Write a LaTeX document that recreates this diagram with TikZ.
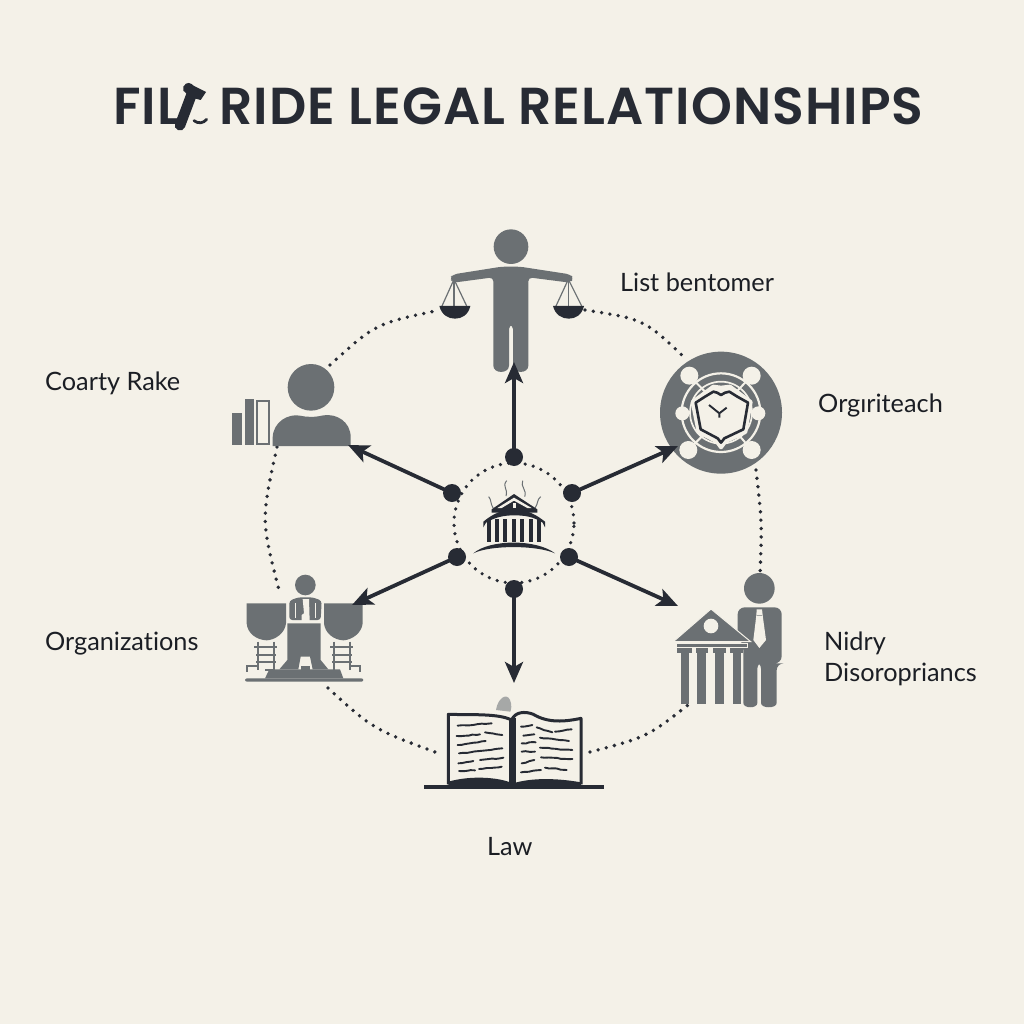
\documentclass[tikz,border=0pt]{standalone}
\usepackage{fontspec}
\setmainfont[Ligatures=NoCommon]{Lato}
\newfontfamily\titlefont[LetterSpace=2.0]{Poppins SemiBold}
\usetikzlibrary{arrows.meta,decorations.pathmorphing}
\definecolor{bgc}{HTML}{F4F1E8}
\definecolor{ink}{HTML}{272B34}
\definecolor{gry}{HTML}{6B7073}
\definecolor{lgry}{HTML}{A6A8A7}
\tikzset{
  lbl/.style={anchor=base west,inner sep=0pt,text=ink!70!black,font=\fontsize{25.3}{29}\selectfont},
  ttl/.style={anchor=base west,inner sep=0pt,text=ink,font=\titlefont\fontsize{52}{56}\selectfont},
  hubdot/.style={circle,fill=ink,draw=none,inner sep=0pt,minimum size=18pt},
  spoke/.style={draw=ink,line width=3.8pt,-{Stealth[length=21pt,width=18pt,inset=5pt]}},
  dotline/.style={draw=ink,line width=3.8pt,line cap=round,dash pattern=on 0pt off 8.4pt},
  hubring/.style={circle,draw=ink,line width=3.6pt,line cap=round,dash pattern=on 0pt off 8.3pt,minimum size=120pt,inner sep=0pt},
  zm/.style={x=0.33333pt,y=-0.33333pt},
  txtln/.style={draw=ink,line width=1.9pt,line cap=round,decorate,decoration={random steps,segment length=4pt,amplitude=.5pt}},
  strng/.style={draw=gry,line width=1.2pt}
}
\begin{document}
\begin{tikzpicture}[x=1pt,y=-1pt]
\useasboundingbox (0,0) rectangle (1024,1024);
\fill[bgc] (0,0) rectangle (1024,1024);

% title
\node[ttl] (titleA) at (113,125) {FIL};
\node[ttl] (titleB) at (219,125) {RIDE LEGAL RELATIONSHIPS};
\begin{scope}[shift={(100,70)},zm]
  \draw[ink,line width=10.5pt,line cap=round] (240,166) -- (278,65);
  \fill[ink] (250,50) .. controls (260,33) and (272,38) .. (282,48) -- (318,66) -- (302,90) -- (272,82) -- (250,62) -- cycle;
  \draw[ink,line width=2.8pt,line cap=round] (282,152) .. controls (295,162) and (310,160) .. (320,148);
\end{scope}

% labels
\node[lbl] (l1) at (620,291) {List bentomer};
\node[lbl] (l2) at (45,390) {Coarty Rake};
\node[lbl] (l3) at (818,412) {Orgıriteach};
\node[lbl] (l4) at (45,650) {Organizations};
\node[lbl] (l5) at (824,650) {Nidry};
\node[lbl] (l6) at (824,681) {Disoropriancs};
\node[lbl] (l7) at (487,855) {Law};

% outer dotted arcs
\coordinate (oa1) at (330,365); \coordinate (oa2) at (440,310); \coordinate (oac) at (375.7,323.5);
\coordinate (ob1) at (585,310); \coordinate (ob2) at (685,358); \coordinate (obc) at (644.3,319.3);
\coordinate (oc1) at (756,470); \coordinate (oc2) at (760,575); \coordinate (occ) at (762,522);
\coordinate (od1) at (277,447); \coordinate (od2) at (279,590); \coordinate (odc) at (261,520);
\coordinate (oe1) at (328,688); \coordinate (oe2) at (435,752); \coordinate (oec) at (373,729);
\coordinate (of1) at (590,752); \coordinate (of2) at (688,705); \coordinate (ofc) at (647,737);
\draw[dotline] (oa1) .. controls (oac) .. (oa2);
\draw[dotline] (ob1) .. controls (obc) .. (ob2);
\draw[dotline] (oc1) .. controls (occ) .. (oc2);
\draw[dotline] (od1) .. controls (odc) .. (od2);
\draw[dotline] (oe1) .. controls (oec) .. (oe2);
\draw[dotline] (of1) .. controls (ofc) .. (of2);

% person with scales
\begin{scope}[shift={(430,220)},zm]
  \fill[gry] (243,80) circle[radius=52];
  \fill[gry,rounded corners=4pt] (58,175) -- (70,163) -- (215,140) -- (270,140) -- (420,163) -- (432,175) -- (420,188) -- (295,172) -- (295,425) .. controls (295,462) and (249,462) .. (249,425) -- (249,315) -- (237,315) -- (237,425) .. controls (237,462) and (190,462) .. (190,425) -- (190,172) -- (70,188) -- cycle;
  \draw[strng] (36,258) -- (72,178) -- (110,258);
  \draw[strng] (72,178) -- (72,258);
  \draw[strng] (378,258) -- (415,178) -- (455,258);
  \draw[strng] (415,178) -- (415,258);
  \fill[ink] (28,258) -- (121,258) .. controls (115,285) and (95,296) .. (75,296) .. controls (55,296) and (35,285) .. (28,258) -- cycle;
  \fill[ink] (369,258) -- (462,258) .. controls (456,285) and (436,296) .. (416,296) .. controls (396,296) and (376,285) .. (369,258) -- cycle;
\end{scope}

% left person with bars
\begin{scope}[shift={(220,350)},zm]
  \fill[gry] (273,112) circle[radius=70];
  \fill[gry] (158,288) -- (158,262) .. controls (160,215) and (205,190) .. (240,197) .. controls (262,202) and (285,202) .. (310,196) .. controls (350,190) and (392,215) .. (392,262) -- (392,288) -- cycle;
  \fill[gry] (36,188) rectangle (65,284);
  \fill[gry] (74,148) rectangle (103,284);
  \draw[gry,line width=1.8pt] (112,152) rectangle (146,283);
\end{scope}

% shield
\begin{scope}[shift={(650,340)},zm]
  \fill[gry] (213,218) circle[radius=183];
  \draw[bgc,line width=2.2pt] (213,218) circle[radius=118];
  \draw[bgc,line width=1.7pt] (213,218) circle[radius=93];
  \draw[bgc,line width=2pt] (118,107) -- (170,160) (305,107) -- (255,160) (115,330) -- (165,280) (305,330) -- (262,280);
  \foreach \px/\py/\pr in {118/107/27,305/107/27,97/220/21,325/220/21,115/330/27,305/330/27}{
    \fill[bgc] (\px,\py) circle[radius=\pr];
  }
  \path[fill=bgc,draw=bgc,line width=4pt,line join=round] (213,143) -- (190,140) -- (128,186) -- (146,276) -- (200,304) -- (213,322) -- (226,304) -- (286,276) -- (302,186) -- (240,140) -- cycle;
  \path[fill=bgc,draw=ink,line width=2.6pt,line join=round] (213,165) .. controls (205,160) and (198,155) .. (190,155) -- (165,170) -- (137,188) -- (152,268) -- (203,295) -- (213,308) -- (223,295) -- (280,268) -- (294,188) -- (262,170) -- (238,155) .. controls (230,155) and (220,160) .. (213,165) -- cycle;
  \draw[ink,line width=1.9pt] (177,195) -- (208,220) -- (230,203) (208,220) -- (208,233);
\end{scope}

% bank and person
\begin{scope}[shift={(660,560)},zm]
  \fill[gry] (298,85) circle[radius=46];
  \fill[gry,rounded corners=7pt] (233,142) -- (365,142) -- (365,310) -- (350,310) -- (350,408) .. controls (350,446) and (303,446) .. (303,408) -- (303,305) -- (292,305) -- (292,408) .. controls (292,446) and (250,446) .. (250,408) -- (250,250) -- (233,230) -- cycle;
  \fill[bgc] (290,148) -- (306,148) -- (308,166) -- (318,240) -- (298,264) -- (280,240) -- (289,166) -- cycle;
  \draw[gry!60!bgc,line width=.5pt] (290,166) -- (307,166);
  \path[fill=gry,draw=bgc,line width=1pt] (40,245) -- (153,147) -- (272,245) -- cycle;
  \fill[bgc] (153,198) circle[radius=22];
  \path[fill=gry,draw=bgc,line width=.8pt] (48,250) rectangle (262,262);
  \foreach \ca/\cb/\sa/\sb in {52/95/62/88,107/145/112/138,160/197/165/192,210/248/218/243}{
    \fill[gry] (\ca,264) rectangle (\cb,278);
    \fill[gry] (\sa,278) rectangle (\sb,432);
  }
\end{scope}

% organization figure
\begin{scope}[shift={(230,560)},zm]
  \fill[gry] (226,75) circle[radius=31];
  \fill[gry] (50,130) -- (168,130) -- (168,190) .. controls (165,220) and (135,240) .. (110,241) .. controls (80,240) and (52,220) .. (50,190) -- cycle;
  \fill[gry] (282,130) -- (398,130) -- (398,190) .. controls (395,220) and (365,240) .. (340,241) .. controls (312,240) and (285,220) .. (282,190) -- cycle;
  \fill[gry,rounded corners=3pt] (178,180) -- (178,122) -- (205,112) -- (248,112) -- (275,122) -- (272,180) -- cycle;
  \fill[bgc] (218,117) -- (237,117) -- (239,184) -- (215,184) -- (215,165) -- (222,160) -- cycle;
  \draw[bgc,line width=.8pt] (196,130) -- (196,175) (255,130) -- (255,175);
  \fill[gry] (172,190) -- (272,190) -- (272,300) -- (295,328) -- (248,328) -- (240,290) -- (212,290) -- (205,328) -- (148,328) -- (172,300) -- cycle;
  \fill[gry] (212,318) rectangle (240,335);
  \fill[gry] (118,328) -- (330,328) -- (340,355) -- (105,355) -- cycle;
  \fill[gry,rounded corners=2pt] (45,355) rectangle (400,365);
  \foreach \ox in {0,228}{
    \draw[gry,line width=1.8pt] (85+\ox,245) -- (85+\ox,330) (132+\ox,245) -- (132+\ox,330)
      (72+\ox,262) -- (142+\ox,262) (78+\ox,285) -- (138+\ox,285) (78+\ox,305) -- (138+\ox,305);
  }
  \draw[gry,line width=1.8pt] (52,335) -- (52,317) -- (85,317);
  \draw[gry,line width=1.8pt] (132,330) -- (105,330);
  \draw[gry,line width=1.8pt] (390,335) -- (390,317) -- (360,317);
\end{scope}

% book
\begin{scope}[shift={(415,685)},zm]
  \fill[lgry] (243,75) .. controls (248,40) and (275,22) .. (285,45) .. controls (292,60) and (288,75) .. (286,80) -- cycle;
  \fill[bgc] (100,90) rectangle (498,295);
  \draw[ink,line width=3pt,line join=round] (100,298) -- (100,88) .. controls (170,90) and (250,85) .. (290,105) .. controls (300,80) and (330,78) .. (355,88) .. controls (400,115) and (450,110) .. (498,100) -- (498,298);
  \fill[ink] (281,100) rectangle (303,300);
  \fill[ink] (100,300) -- (100,290) .. controls (170,270) and (250,278) .. (285,292) -- (305,292) .. controls (360,278) and (430,280) .. (498,292) -- (498,300) -- cycle;
  \draw[ink,line width=4pt] (28,305) -- (568,305);
  \draw[txtln] (128,122) -- (230,115);
  \draw[txtln] (125,153) -- (195,148);
  \draw[txtln] (210,142) -- (262,150);
  \draw[txtln] (128,180) -- (212,168);
  \draw[txtln] (132,205) -- (262,190);
  \draw[txtln] (130,235) -- (175,228);
  \draw[txtln] (195,225) -- (265,218);
  \draw[txtln] (132,258) -- (180,256);
  \draw[txtln] (192,252) -- (260,245);
  \draw[txtln] (318,125) -- (352,120);
  \draw[txtln] (365,127) -- (412,142);
  \draw[txtln] (420,140) -- (470,133);
  \draw[txtln] (325,152) -- (358,148);
  \draw[txtln] (375,158) -- (462,168);
  \draw[txtln] (320,175) -- (362,172);
  \draw[txtln] (375,188) -- (472,195);
  \draw[txtln] (320,200) -- (360,200);
  \draw[txtln] (378,217) -- (472,222);
  \draw[txtln] (320,235) -- (358,225);
  \draw[txtln] (318,262) -- (378,255);
  \draw[txtln] (390,248) -- (455,255);
\end{scope}

% hub ring and temple
\node[hubring] (hub) at (514,523) {};
\begin{scope}[shift={(440,440)},zm]
  \draw[gry,line width=1pt] (200,122) .. controls (185,140) and (205,145) .. (198,168);
  \draw[gry,line width=1pt] (248,122) .. controls (240,140) and (262,150) .. (254,170);
  \draw[gry,line width=1pt] (146,170) .. controls (155,180) and (150,190) .. (160,205);
  \draw[gry,line width=1pt] (302,170) .. controls (290,180) and (295,190) .. (285,205);
  \fill[ink] (155,208) -- (222,162) -- (292,208) -- (292,218) -- (155,218) -- cycle;
  \fill[bgc] (172,204) -- (222,173) -- (275,204) -- (262,204) -- (222,182) -- (185,204) -- cycle;
  \fill[bgc] (218,190) rectangle (228,203);
  \fill[ink] (130,262) -- (130,245) .. controls (160,220) and (190,208) .. (222,208) .. controls (260,208) and (290,225) .. (315,245) -- (315,262) -- (308,248) .. controls (280,230) and (255,226) .. (222,226) .. controls (190,226) and (165,232) .. (138,248) -- cycle;
  \foreach \cx in {148,171,196,222,247,272,296}{
    \fill[ink] (\cx-6,238) rectangle (\cx+6,305);
  }
  \fill[ink] (100,340) .. controls (150,297) and (290,297) .. (345,340) .. controls (290,315) and (150,315) .. (100,340) -- cycle;
\end{scope}

% hub dots and spokes
\node[hubdot] (dN) at (514,457) {};
\node[hubdot] (dNW) at (452,493) {};
\node[hubdot] (dNE) at (572,493) {};
\node[hubdot] (dSW) at (457,557) {};
\node[hubdot] (dSE) at (569,557) {};
\node[hubdot] (dS) at (514,589) {};
\coordinate (tN) at (514,362);
\coordinate (tNW) at (348,445);
\coordinate (tNE) at (678,446);
\coordinate (tSW) at (352,605);
\coordinate (tSE) at (678,606);
\coordinate (tS) at (514,683);
\draw[spoke] (dN.center) -- (tN);
\draw[spoke] (dNW.center) -- (tNW);
\draw[spoke] (dNE.center) -- (tNE);
\draw[spoke] (dSW.center) -- (tSW);
\draw[spoke] (dSE.center) -- (tSE);
\draw[spoke] (dS.center) -- (tS);
\end{tikzpicture}
\end{document}
